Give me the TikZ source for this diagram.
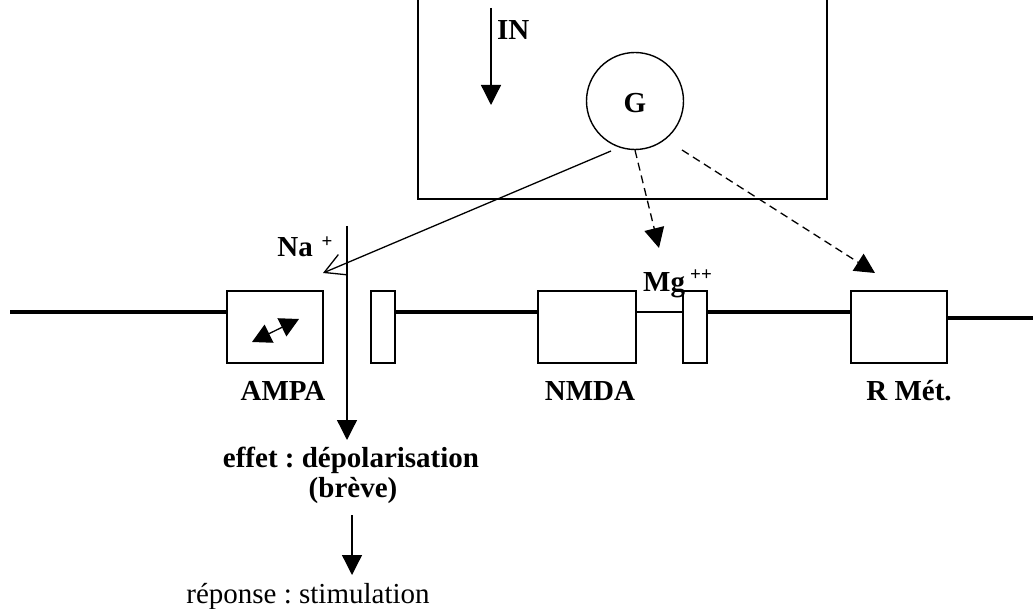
\documentclass[tikz,border=0pt]{standalone}
\usepackage{fontspec}
\setmainfont{Liberation Serif}
\usetikzlibrary{arrows.meta}
\frenchspacing
\begin{document}
\begin{tikzpicture}[x=1pt,y=-1pt,
  lbl/.style={font=\fontsize{29}{33}\selectfont\bfseries, inner sep=0pt},
  sup/.style={font=\fontsize{19}{21}\selectfont\bfseries, inner sep=0pt},
  plaintxt/.style={font=\fontsize{29}{33}\selectfont, inner sep=0pt},
  box/.style={draw, line width=1.4pt, minimum width=#1, minimum height=72pt, inner sep=0pt},
  memb/.style={line width=4pt},
  fine/.style={line width=1.3pt},
  tri/.style={-{Triangle[length=20pt,width=20pt]}},
  dsh/.style={dash pattern=on 8pt off 5pt}
]
\useasboundingbox (0,0) rectangle (1033,609);

% membrane coordinates
\coordinate (mL) at (10,312);
\coordinate (mR) at (1033,318);

% receptor boxes
\node[box=96pt] (ampa) at (275,327) {};
\node[box=24pt] (r1) at (383,327) {};
\node[box=98pt] (nmda) at (587,327) {};
\node[box=24pt] (r2) at (695,327) {};
\node[box=96pt] (rmet) at (899,327) {};

% membrane
\draw[memb] (mL) -- (mL -| ampa.west);
\draw[memb] (mL -| r1.east) -- (mL -| nmda.west);
\draw[fine] (mL -| nmda.east) -- (mL -| r2.west);
\draw[memb] (mL -| r2.east) -- (mL -| rmet.west);
\draw[memb] (mR -| rmet.east) -- (mR);

% labels under boxes
\node[lbl, anchor=base] (lampa) at (283,400) {AMPA};
\node[lbl, anchor=base] (lnmda) at (590,400) {NMDA};
\node[lbl, anchor=base] (lrmet) at (909,400) {R Mét.};

% presynaptic terminal
\coordinate (tl) at (418,0);
\coordinate (tr) at (827,0);
\draw[fine] (tl) -- (418,199) -- (827,199) -- (tr);
\coordinate (inA) at (491,8);
\coordinate (inB) at (491,105);
\draw[fine,tri] (inA) -- (inB);
\node[lbl, anchor=base west] (in) at (497,40) {IN};

\node[draw, circle, line width=1.4pt, minimum size=97pt, inner sep=0pt] (G) at (635,101) {};
\node[lbl, anchor=base] (gl) at (G.center) [yshift=-12pt] {G};

% Na+
\node[lbl, anchor=base east] (na) at (313,257) {Na};
\node[sup] (naplus) at (327,242) {+};
\coordinate (vtop) at (347,226);
\coordinate (vbot) at (347,440);
\draw[fine,tri] (vtop) -- (vbot);
\coordinate (g1) at (611,151);
\coordinate (natip) at (323,273);
\draw[fine, -{Straight Barb[length=20pt,width=22pt]}] (g1) -- (natip);

% Mg++
\node[lbl, anchor=base west] (mg) at (643,292) {Mg};
\node[sup] (mgpp) at (701,275) {++};

% dashed arrows
\coordinate (d1) at (659,248);
\coordinate (g3) at (682,150);
\coordinate (d2) at (875,273);
\draw[fine,dsh,tri] (G.south) -- (d1);
\draw[fine,dsh,tri] (g3) -- (d2);

% AMPA icon
\coordinate (ia) at (252,342);
\coordinate (ib) at (299,319);
\draw[fine, {Triangle[length=19pt,width=20pt]}-{Triangle[length=19pt,width=20pt]}] (ia) -- (ib);

% effect text
\node[lbl, anchor=base] (eff) at (351,467) {effet : dépolarisation};
\node[lbl, anchor=base] (brv) at (353,497) {(brève)};
\coordinate (a2a) at (352,515);
\coordinate (a2b) at (352,575);
\draw[fine,tri] (a2a) -- (a2b);
\node[plaintxt, anchor=base] (rep) at (308,603) {réponse : stimulation};
\end{tikzpicture}
\end{document}
